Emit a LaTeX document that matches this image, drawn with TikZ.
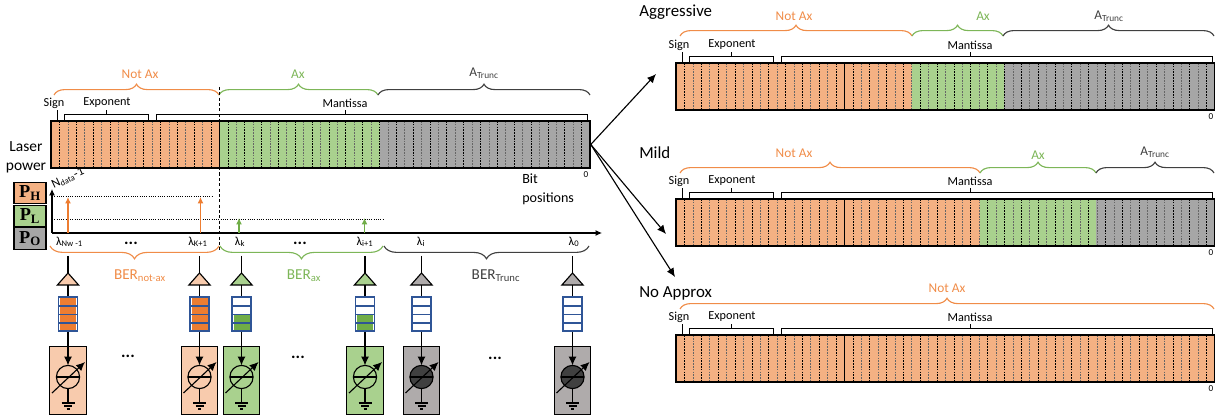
\documentclass[tikz,border=0pt]{standalone}
\usepackage{fontspec}
\setmainfont{Carlito}
\newfontfamily\powerfont{Liberation Serif}
\usetikzlibrary{arrows.meta,decorations.pathreplacing,shapes.geometric}

\definecolor{notaxcol}{HTML}{F4B183}
\definecolor{axcol}{HTML}{A9D18E}
\definecolor{trunccol}{HTML}{A6A6A6}
\definecolor{notaxtext}{HTML}{F08C48}
\definecolor{axtext}{HTML}{7DB658}
\definecolor{trunctext}{HTML}{404040}
\definecolor{notaxslot}{HTML}{ED7D31}
\definecolor{axslot}{HTML}{70AD47}
\definecolor{notaxlite}{HTML}{F8CBAD}
\definecolor{trunclite}{HTML}{AFABAB}
\definecolor{bufblue}{HTML}{2F5597}

% name, left x, top y, start of green, end of green
\newcommand{\bitbar}[5]{
	\fill[notaxcol] (#2,#3) rectangle ({#4},{#3+47});
	\fill[axcol] ({#4},#3) rectangle ({#5},{#3+47});
	\fill[trunccol] ({#5},#3) rectangle ({#2+539},{#3+47});
	\foreach \i in {1,3,...,63}
		\draw[bittick] ({#2+\i*8.42},#3) -- ({#2+\i*8.42},{#3+47});
	\foreach \i in {2,4,...,62}
		\draw[bittick, black!60] ({#2+\i*8.42},#3) -- ({#2+\i*8.42},{#3+47});
	\draw[line width=0.6pt] ({#2+168},#3) -- ({#2+168},{#3+47});
	\node[barframe] (#1) at ({#2+269.5},{#3+23.5}) {};
	\draw[bracket] ({#2+6},#3) -- ({#2+6},{#3-11});
	\draw[bracket] ({#2+13},{#3-1}) -- ({#2+13},{#3-7}) -- ({#2+97},{#3-7}) -- ({#2+97},{#3-1});
	\draw[bracket] ({#2+55},{#3-7}) -- ({#2+55},{#3-11});
	\draw[bracket] ({#2+105},{#3-1}) -- ({#2+105},{#3-7}) -- ({#2+536},{#3-7}) -- ({#2+536},{#3-1});
	\draw[bracket] ({#2+294},{#3-7}) -- ({#2+294},{#3-11});
	\node[lbl] (#1sign) at ({#2+3},{#3-18}) {Sign};
	\node[lbl] (#1exp) at ({#2+56},{#3-18}) {Exponent};
	\node[lbl] (#1man) at ({#2+294},{#3-18}) {Mantissa};
	\node[tiny lbl] (#1zero) at ({#2+535},{#3+54}) {0};
}

\begin{document}
\begin{tikzpicture}[x=0.025cm,y=-0.025cm,
	lbl/.style={font=\fontsize{8.7}{10}\selectfont, inner sep=0pt},
	tiny lbl/.style={font=\fontsize{6.5}{7}\selectfont, inner sep=0pt},
	seclbl/.style={font=\fontsize{9.5}{11}\selectfont, inner sep=0pt},
	berlbl/.style={font=\fontsize{10.8}{12}\selectfont, inner sep=0pt},
	dots/.style={font=\fontsize{12}{12}\selectfont\bfseries, inner sep=0pt},
	title/.style={font=\fontsize{12}{14}\selectfont, inner sep=0pt, anchor=west},
	bittick/.style={line width=0.4pt, dash pattern=on 1.2pt off 0.8pt},
	barframe/.style={draw, line width=1pt, inner sep=0pt, minimum width=13.475cm, minimum height=1.175cm},
	bracket/.style={line width=0.7pt},
	brc/.style={decorate, decoration={brace,amplitude=0.27cm}, line width=0.8pt},
	lowbrc/.style={decorate, decoration={brace,amplitude=0.32cm}, line width=0.8pt},
	powerbox/.style={draw, thick, inner sep=0pt, minimum width=0.8cm, minimum height=0.53cm, font=\powerfont\bfseries\fontsize{13}{13}\selectfont},
	level/.style={line width=0.6pt, densely dotted},
	amp/.style={draw, thick, isosceles triangle, isosceles triangle stretches, shape border rotate=90, inner sep=0pt, outer sep=0pt, minimum height=0.3cm, minimum width=0.53cm, anchor=apex},
	bufbox/.style={draw=bufblue, line width=1.2pt, inner sep=0pt, minimum width=0.47cm, minimum height=0.85cm},
	detbox/.style={draw, thick, inner sep=0pt, minimum width=0.92cm, minimum height=1.72cm},
	dial/.style={circle, draw, thick, inner sep=0pt, outer sep=0pt, minimum size=0.58cm},
	wire/.style={thick},
	tip/.style={-{Latex[length=0.22cm,width=0.2cm]}},
	smalltip/.style={-{Latex[length=0.16cm,width=0.15cm]}}]

	\useasboundingbox (0,0) rectangle (1215,419);

	% left bar
	\bitbar{mainbar}{51}{121}{219}{380}
	\node[seclbl, text=notaxtext] (mainna) at (140,74) {Not Ax};
	\node[seclbl, text=axtext] (mainax) at (298,74) {Ax};
	\node[seclbl, text=trunctext] (maintr) at (484,73) {A\textsubscript{Trunc}};
	\draw[brc, notaxtext] (54,95) -- (219,95);
	\draw[brc, axtext] (219,95) -- (378,95);
	\draw[brc, trunctext] (378,95) -- (590,95);
	\draw[line width=0.6pt, dash pattern=on 2.2pt off 1.6pt] (219,87) -- (219,250);

	\node[inner sep=0pt, align=center, font=\fontsize{11}{13.5}\selectfont] (laser) at (26,157.5) {Laser\\power};
	\node[inner sep=0pt, rotate=25, font=\fontsize{9}{10}\selectfont] (ndata) at (68,178) {N\textsubscript{data}-1};
	\node[inner sep=0pt, align=left, anchor=west, font=\fontsize{10}{13.5}\selectfont] (bitpos) at (522,189) {Bit\\positions};

	% power levels
	\node[powerbox, fill=notaxcol] (ph) at (30,193) {P\textsubscript{H}};
	\node[powerbox, fill=axcol] (pl) at (30,216) {P\textsubscript{L}};
	\node[powerbox, fill=trunccol] (po) at (30,238.5) {P\textsubscript{O}};
	\coordinate (origin) at (52,233);
	\coordinate (yend) at (52,189);
	\coordinate (xend) at (602,233);
	\draw[thick,smalltip] (origin) -- (yend);
	\draw[thick,smalltip] (origin) -- (xend);
	\draw[level] (52,196.5) -- (212,196.5);
	\draw[level] (52,219) -- (384,219);
	\foreach \x in {68,200.5}
		\draw[line width=1.4pt, notaxslot, smalltip] (\x,233) -- (\x,197);
	\foreach \x in {239,364.5}
		\draw[line width=1.4pt, axslot, smalltip] (\x,233) -- (\x,218);

	% wavelengths
	\node[lbl] (l1) at (69.5,242) {λ\textsubscript{Nw -1}};
	\node[dots] (d1) at (131,243) {...};
	\node[lbl] (l2) at (198,242) {λ\textsubscript{K+1}};
	\node[lbl] (l3) at (240,242) {λ\textsubscript{k}};
	\node[dots] (d2) at (300,243) {...};
	\node[lbl] (l4) at (365,242) {λ\textsubscript{i+1}};
	\node[lbl] (l5) at (421,242) {λ\textsubscript{i}};
	\node[lbl] (l6) at (574,242) {λ\textsubscript{0}};
	\draw[lowbrc, notaxtext] (219,246) -- (50,246);
	\draw[lowbrc, axtext] (383,246) -- (220,246);
	\draw[lowbrc, trunctext] (589,246) -- (384,246);
	\node[berlbl, text=notaxtext] (bera) at (140,276) {BER\textsubscript{not-ax}};
	\node[berlbl, text=axtext] (berb) at (304,276) {BER\textsubscript{ax}};
	\node[berlbl, text=trunctext] (berc) at (496,276) {BER\textsubscript{Trunc}};

	% receiver columns
	\foreach \n/\cx/\boxcol/\slota/\slotb/\dialcol in {
		1/68/notaxlite/notaxslot/notaxslot/notaxlite,
		2/199.5/notaxlite/notaxslot/notaxslot/notaxlite,
		3/241.5/axcol/white/axslot/axcol,
		4/365/axcol/white/axslot/axcol,
		5/421.5/trunclite/white/white/trunctext,
		6/572.5/trunclite/white/white/trunctext}{
		\coordinate (top\n) at (\cx,256);
		\node[amp, fill=\boxcol] (amp\n) at (\cx,273) {};
		\fill[\slota] (\cx-8,298) rectangle (\cx+8,314);
		\fill[\slotb] (\cx-8,314) rectangle (\cx+8,331);
		\node[bufbox] (buf\n) at (\cx,314) {};
		\draw[bufblue, thick] (\cx-9,306) -- (\cx+9,306);
		\draw[bufblue, thick] (\cx-9,314.5) -- (\cx+9,314.5);
		\draw[bufblue, thick] (\cx-9,323) -- (\cx+9,323);
		\node[detbox, fill=\boxcol] (det\n) at (\cx,380.5) {};
		\node[dial, fill=\dialcol] (dial\n) at (\cx,377) {};
		\draw[wire] (top\n) -- (amp\n.apex);
		\draw[wire] (amp\n.lower side) -- (buf\n.north);
		\draw[wire,tip] (buf\n.south) -- (dial\n.north);
		\draw[wire] (dial\n.west) -- (dial\n.east);
		\draw[wire,tip] ([shift={(-16,16)}]dial\n.center) -- ([shift={(17,-15)}]dial\n.center);
		\coordinate (gnd\n) at (\cx,403);
		\draw[wire] (dial\n.south) -- (gnd\n);
		\draw[thick] (\cx-6.5,403) -- (\cx+6.5,403);
		\draw[thick] (\cx-4,406) -- (\cx+4,406);
		\draw[thick] (\cx-1.5,409) -- (\cx+1.5,409);
	}
	\node[dots] (gap1) at (128,356) {...};
	\node[dots] (gap2) at (298,357) {...};
	\node[dots] (gap3) at (495,358) {...};

	% right bars
	\node[title] (aggtitle) at (639,12) {Aggressive};
	\bitbar{aggbar}{676}{63}{912}{1004}
	\node[seclbl, text=notaxtext] (aggna) at (794,16) {Not Ax};
	\node[seclbl, text=axtext] (aggax) at (983,16) {Ax};
	\node[seclbl, text=trunctext] (aggtr) at (1109,16) {A\textsubscript{Trunc}};
	\draw[brc, notaxtext] (680,36) -- (912,36);
	\draw[brc, axtext] (912,36) -- (1003,36);
	\draw[brc, trunctext] (1003,36) -- (1214,36);

	\node[title] (mildtitle) at (639,153) {Mild};
	\bitbar{mildbar}{676}{199}{980}{1096}
	\node[seclbl, text=notaxtext] (mildna) at (794,153) {Not Ax};
	\node[seclbl, text=axtext] (mildax) at (1038,155) {Ax};
	\node[seclbl, text=trunctext] (mildtr) at (1155,152) {A\textsubscript{Trunc}};
	\draw[brc, notaxtext] (680,173) -- (980,173);
	\draw[brc, axtext] (980,173) -- (1096,173);
	\draw[brc, trunctext] (1096,173) -- (1214,173);

	\node[title] (notitle) at (639,293) {No Approx};
	\bitbar{nobar}{676}{335}{1215}{1215}
	\node[seclbl, text=notaxtext] (nona) at (947,288) {Not Ax};
	\draw[brc, notaxtext] (680,309) -- (1214,309);

	% arrows between bars
	\coordinate (aggtip) at (656,74);
	\coordinate (mildtip) at (666,234);
	\coordinate (notip) at (675,277);
	\draw[thick,tip] (mainbar.east) -- (aggtip);
	\draw[thick,tip] (mainbar.east) -- (mildtip);
	\draw[thick,tip] (mainbar.east) -- (notip);
\end{tikzpicture}
\end{document}
